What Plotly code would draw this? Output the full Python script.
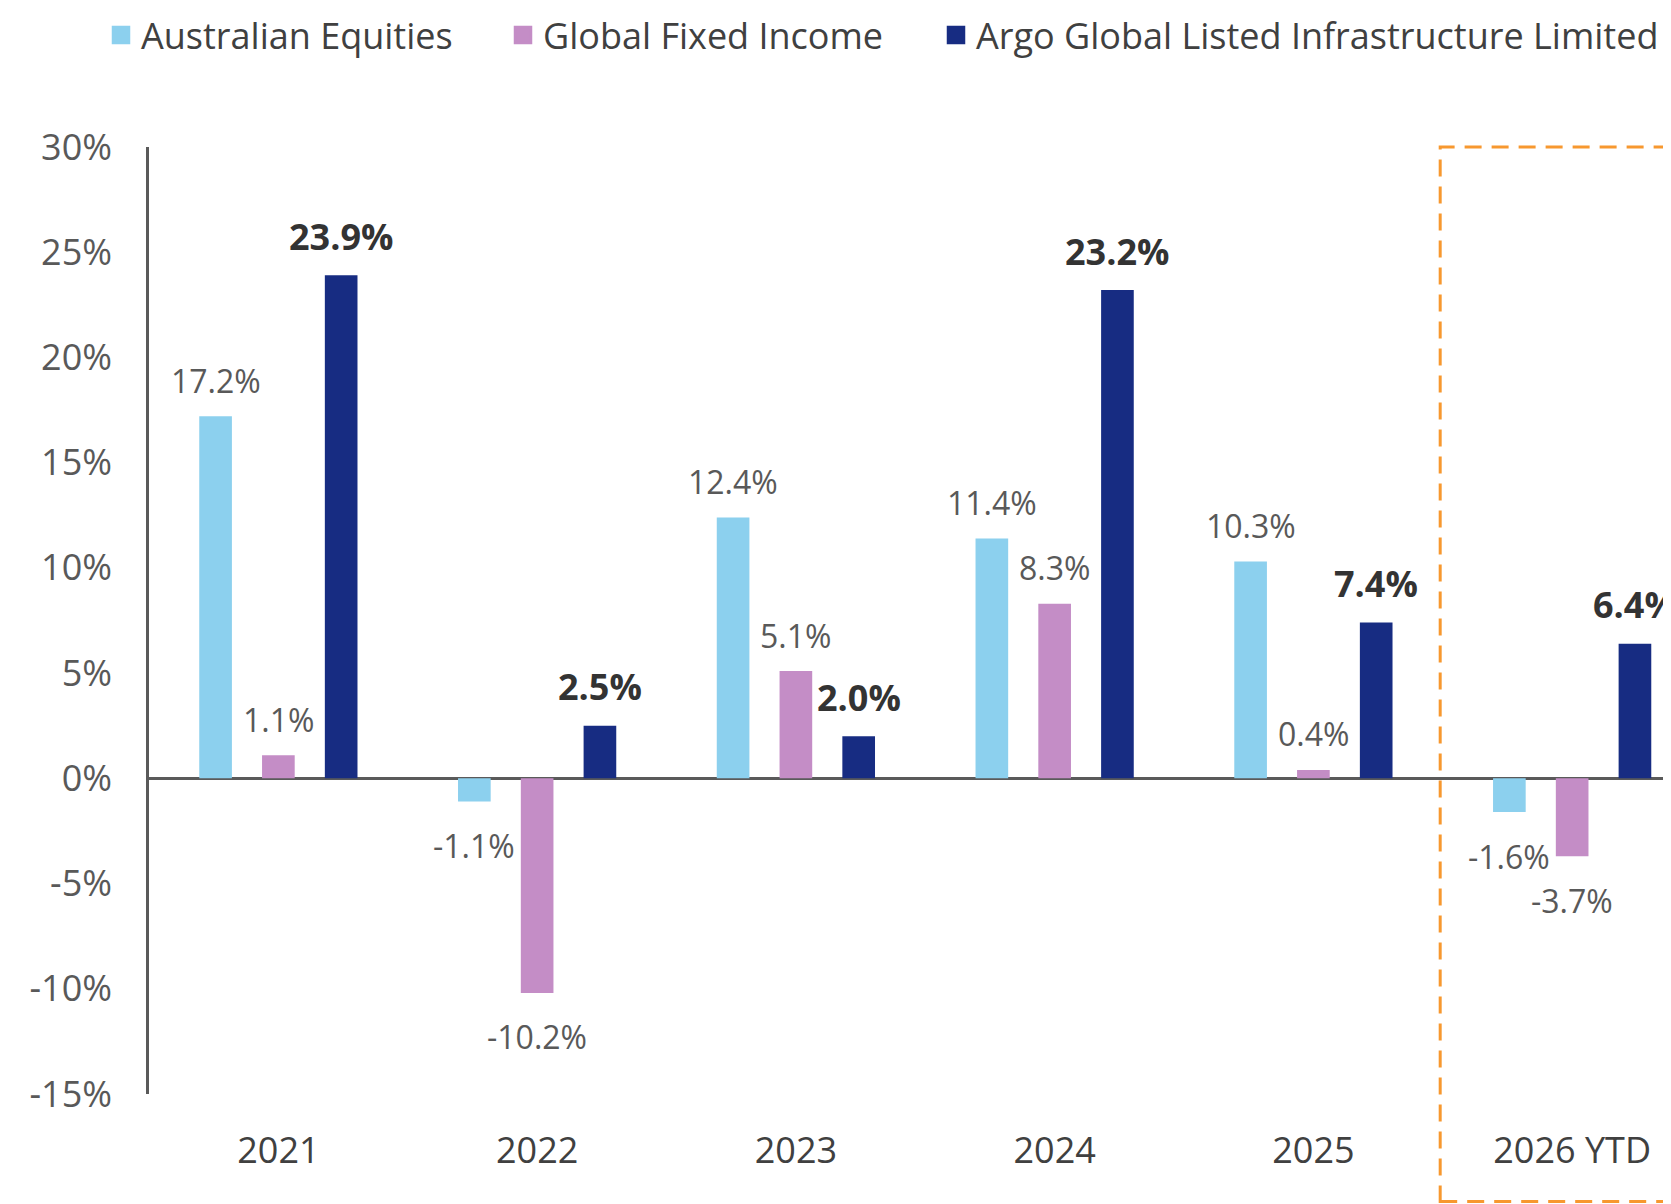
import plotly.graph_objects as go

# ---------------- data ----------------
categories = ["2021", "2022", "2023", "2024", "2025", "2026 YTD"]
australian_equities = [17.2, -1.1, 12.4, 11.4, 10.3, -1.6]
global_fixed_income = [1.1, -10.2, 5.1, 8.3, 0.4, -3.7]
argo_global_infra = [23.9, 2.5, 2.0, 23.2, 7.4, 6.4]

series_names = ["Australian Equities", "Global Fixed Income",
                "Argo Global Listed Infrastructure Limited"]
series_values = [australian_equities, global_fixed_income, argo_global_infra]

y_tickvals = [30, 25, 20, 15, 10, 5, 0, -5, -10, -15]
y_ticktext = ["30%", "25%", "20%", "15%", "10%", "5%", "0%", "-5%", "-10%", "-15%"]

# ---------------- style ----------------
series_colors = ["#8CD0EE", "#C48DC6", "#172C82"]
label_fonts = [
    dict(family="Open Sans", size=32, color="#595959"),
    dict(family="Open Sans", size=32, color="#595959"),
    dict(family="Open Sans", size=36, color="#333333", weight="bold"),
]
label_shift_up = [36, 36, 39]
label_shift_down = -44

# figure sized to the viewport minus the page's default 8px body margin
W, H = 1663, 1196
margin = dict(l=141, r=0, t=139, b=110, pad=0)
x_range = [-0.5, 5.382]
y_range = [-15, 30]
bargap = 0.272
bargroupgap = 0.48
legend_px = [93, 495, 928]

fig = go.Figure()

for name, vals, col in zip(series_names, series_values, series_colors):
    fig.add_trace(go.Bar(
        x=categories, y=vals, name=name, showlegend=False,
        marker=dict(color=col, line=dict(width=0)),
        hoverinfo="skip",
    ))

legend_keys = ["legend", "legend2", "legend3"]
for name, col, lk in zip(series_names, series_colors, legend_keys):
    fig.add_trace(go.Scatter(
        x=[None], y=[None], mode="markers", name=name, legend=lk,
        marker=dict(symbol="square", size=16, color=col, line=dict(color=col, width=2.5)),
        showlegend=True, hoverinfo="skip",
    ))

# data labels, positioned over the grouped bars
plot_w = W - margin["l"] - margin["r"]
cat_px = plot_w / (x_range[1] - x_range[0])
slot_px = (1 - bargap) * cat_px / len(series_values)

annotations = []
for i, vals in enumerate(series_values):
    xshift = (i - (len(series_values) - 1) / 2) * slot_px
    for ci, v in enumerate(vals):
        annotations.append(dict(
            x=ci, y=v, xref="x", yref="y",
            text=f"{v:.1f}%", showarrow=False,
            xanchor="center", yanchor="middle",
            xshift=xshift,
            yshift=label_shift_up[i] if v >= 0 else label_shift_down,
            font=label_fonts[i],
        ))

# dashed highlight box around the YTD column
box_x0 = (4.49 - x_range[0]) / (x_range[1] - x_range[0])
shapes = [dict(
    type="rect", xref="paper", yref="paper",
    x0=box_x0, x1=1.03, y0=-0.1135, y1=1.0,
    line=dict(color="#F7982F", width=3, dash="17px,10px"),
    fillcolor="rgba(0,0,0,0)", layer="above",
)]

legend_common = dict(
    orientation="h", xref="container", yref="container",
    y=1 - 27 / H, yanchor="middle", xanchor="left",
    font=dict(family="Open Sans", size=36, color="#404040"),
    bgcolor="rgba(0,0,0,0)", borderwidth=0,
)

fig.update_layout(
    width=W, height=H,
    margin=margin,
    paper_bgcolor="white", plot_bgcolor="white",
    barmode="group", bargap=bargap, bargroupgap=bargroupgap,
    font=dict(family="Open Sans", color="#595959"),
    annotations=annotations,
    shapes=shapes,
    legend=dict(x=legend_px[0] / W, **legend_common),
    legend2=dict(x=legend_px[1] / W, **legend_common),
    legend3=dict(x=legend_px[2] / W, **legend_common),
    xaxis=dict(
        type="category", range=x_range, showgrid=False, showline=False,
        ticks="", zeroline=False,
        tickfont=dict(family="Open Sans", size=36, color="#404040"),
        ticklabelstandoff=32,
    ),
    yaxis=dict(
        range=y_range, tickvals=y_tickvals, ticktext=y_ticktext,
        showgrid=False, showline=True, linecolor="#5A5A5A", linewidth=2.5,
        zeroline=True, zerolinecolor="#5A5A5A", zerolinewidth=2.5,
        ticks="", ticklabelstandoff=27,
        tickfont=dict(family="Open Sans", size=36, color="#595959"),
    ),
)

fig.write_html("out.html")
